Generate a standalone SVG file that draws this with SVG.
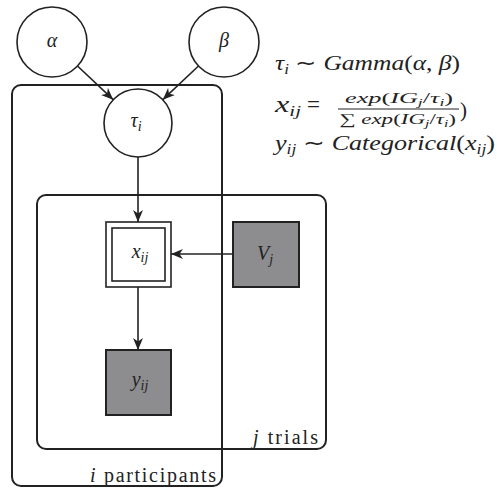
<svg xmlns="http://www.w3.org/2000/svg" width="497" height="490" viewBox="0 0 497 490">
<defs>
<style>
.ln{fill:none;stroke:#222;stroke-width:1.6}
.node{fill:#fff;stroke:#222;stroke-width:1.6}
.obs{fill:#8d8d8f;stroke:#222;stroke-width:2}
.plate{fill:none;stroke:#222;stroke-width:2}
text{font-family:'Liberation Serif','Times New Roman',serif;fill:#222}
.m{font-style:italic}
.n{font-style:normal}
</style>
<marker id="ah" viewBox="0 0 12 10" refX="12" refY="5" markerWidth="12" markerHeight="10" markerUnits="userSpaceOnUse" orient="auto">
<path d="M0,0 L12,5 L0,10 L3.5,5 Z" fill="#222"/>
</marker>
</defs>
<g id="plate-i">
<rect class="plate" x="12" y="85" width="210" height="401" rx="9"/>
<text x="90" y="482" font-size="20" textLength="126" lengthAdjust="spacing"><tspan class="m">i</tspan> participants</text>
</g>
<g id="plate-j">
<rect class="plate" x="37" y="195" width="289" height="254" rx="9"/>
<text x="253" y="444" font-size="20" textLength="65" lengthAdjust="spacing"><tspan class="m">j</tspan> trials</text>
</g>
<g id="connectors">
<line class="ln" x1="77.5" y1="66" x2="113.2" y2="99.7" marker-end="url(#ah)"/>
<line class="ln" x1="198.5" y1="66" x2="162.8" y2="99.7" marker-end="url(#ah)"/>
<line class="ln" x1="138" y1="157" x2="138" y2="222" marker-end="url(#ah)"/>
<line class="ln" x1="233" y1="254" x2="171" y2="254" marker-end="url(#ah)"/>
<line class="ln" x1="138" y1="287" x2="138" y2="350" marker-end="url(#ah)"/>
</g>
<g id="alpha">
<circle class="node" cx="52" cy="42" r="35"/>
<text class="m" x="52" y="47" font-size="20" text-anchor="middle">α</text>
</g>
<g id="beta">
<circle class="node" cx="224" cy="42" r="35"/>
<text class="m" x="224" y="47" font-size="20" text-anchor="middle">β</text>
</g>
<g id="tau">
<circle class="node" cx="138" cy="123" r="34"/>
<text class="m" x="136" y="127" font-size="20" text-anchor="middle">τ<tspan font-size="14" dy="4">i</tspan></text>
</g>
<g id="x">
<rect class="node" x="106" y="222" width="65" height="65"/>
<rect class="node" x="112" y="228" width="53" height="53"/>
<text class="m" x="140" y="258" font-size="20" text-anchor="middle">x<tspan font-size="14" dy="4">ij</tspan></text>
</g>
<g id="V">
<rect class="obs" x="233" y="222" width="66" height="65"/>
<text class="m" x="265" y="260" font-size="20" text-anchor="middle">V<tspan font-size="14" dy="4">j</tspan></text>
</g>
<g id="y">
<rect class="obs" x="106" y="350" width="65" height="65"/>
<text class="m" x="140" y="386" font-size="20" text-anchor="middle">y<tspan font-size="14" dy="4">ij</tspan></text>
</g>
<g id="equations">
<text class="m" x="275" y="70" font-size="21" textLength="185" lengthAdjust="spacingAndGlyphs">τ<tspan font-size="14" dy="4">i</tspan><tspan class="n" dy="-4"> ∼ </tspan>Gamma<tspan class="n">(</tspan>α<tspan class="n">, </tspan>β<tspan class="n">)</tspan></text>
<text class="m" x="275" y="112" font-size="23" textLength="26" lengthAdjust="spacingAndGlyphs">x<tspan font-size="15" dy="4">ij</tspan></text>
<text class="n" x="307" y="112" font-size="23">=</text>
<text class="m" x="345" y="103" font-size="15" textLength="108" lengthAdjust="spacingAndGlyphs">exp<tspan class="n">(</tspan>IG<tspan font-size="10" dy="3">j</tspan><tspan class="n" dy="-3">/</tspan>τ<tspan font-size="10" dy="3">i</tspan><tspan class="n" dy="-3">)</tspan></text>
<line x1="338" y1="109" x2="459" y2="109" stroke="#222" stroke-width="1"/>
<text class="m" x="339" y="124" font-size="15" textLength="117" lengthAdjust="spacingAndGlyphs"><tspan class="n">∑</tspan> exp<tspan class="n">(</tspan>IG<tspan font-size="10" dy="3">j</tspan><tspan class="n" dy="-3">/</tspan>τ<tspan font-size="10" dy="3">i</tspan><tspan class="n" dy="-3">)</tspan></text>
<text class="n" x="460" y="117" font-size="21">)</text>
<text class="m" x="275" y="150" font-size="21" textLength="220" lengthAdjust="spacingAndGlyphs">y<tspan font-size="14" dy="4">ij</tspan><tspan class="n" dy="-4"> ∼ </tspan>Categorical<tspan class="n">(</tspan>x<tspan font-size="14" dy="4">ij</tspan><tspan class="n" dy="-4">)</tspan></text>
</g>
</svg>
